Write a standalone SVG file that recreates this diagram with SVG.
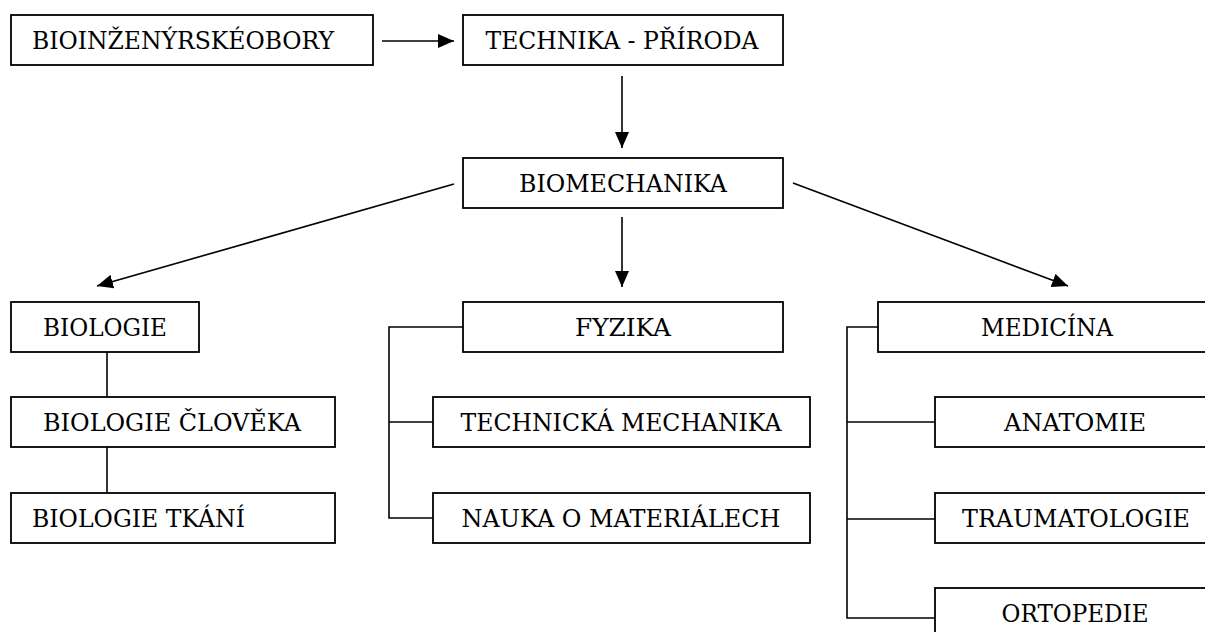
<svg xmlns="http://www.w3.org/2000/svg" width="1205" height="632" viewBox="0 0 1205 632">
<style>
.box{fill:#fff;stroke:#000;stroke-width:1.8}
.t{font-family:"DejaVu Serif",serif;font-size:24px;fill:#000}
.c{text-anchor:middle}
.ln{fill:none;stroke:#000;stroke-width:1.6}
</style>
<defs>
<marker id="ah" markerUnits="userSpaceOnUse" markerWidth="16" markerHeight="14" refX="16" refY="7" orient="auto" viewBox="0 0 16 14">
<path d="M0,0 L16,7 L0,14 Z" fill="#000"/>
</marker>
</defs>
<g id="connectors">
<line class="ln" x1="382" y1="41" x2="454" y2="41" marker-end="url(#ah)"/>
<line class="ln" x1="622" y1="76" x2="622" y2="148" marker-end="url(#ah)"/>
<line class="ln" x1="454" y1="184" x2="97" y2="286" marker-end="url(#ah)"/>
<line class="ln" x1="622" y1="217" x2="622" y2="287" marker-end="url(#ah)"/>
<line class="ln" x1="793" y1="183" x2="1068" y2="286" marker-end="url(#ah)"/>
<line class="ln" x1="107" y1="352" x2="107" y2="397"/>
<line class="ln" x1="107" y1="447" x2="107" y2="493"/>
<polyline class="ln" points="463,327 389,327 389,518 433,518"/>
<line class="ln" x1="389" y1="422" x2="433" y2="422"/>
<polyline class="ln" points="878,327 847,327 847,618 935,618"/>
<line class="ln" x1="847" y1="422" x2="935" y2="422"/>
<line class="ln" x1="847" y1="519" x2="935" y2="519"/>
</g>
<g id="n-bioinz"><rect class="box" x="11" y="15" width="362" height="50"/><text class="t" x="32" y="49" textLength="302" lengthAdjust="spacingAndGlyphs">BIOINŽENÝRSKÉOBORY</text></g>
<g id="n-technika"><rect class="box" x="463" y="15" width="320" height="50"/><text class="t c" x="622" y="49" textLength="273" lengthAdjust="spacingAndGlyphs">TECHNIKA - PŘÍRODA</text></g>
<g id="n-biomech"><rect class="box" x="463" y="158" width="320" height="50"/><text class="t c" x="623" y="192" textLength="208" lengthAdjust="spacingAndGlyphs">BIOMECHANIKA</text></g>
<g id="n-biologie"><rect class="box" x="11" y="302" width="188" height="50"/><text class="t c" x="105" y="336" textLength="124" lengthAdjust="spacingAndGlyphs">BIOLOGIE</text></g>
<g id="n-bio-clov"><rect class="box" x="11" y="397" width="324" height="50"/><text class="t c" x="172" y="431" textLength="258" lengthAdjust="spacingAndGlyphs">BIOLOGIE ČLOVĚKA</text></g>
<g id="n-bio-tkani"><rect class="box" x="11" y="493" width="324" height="50"/><text class="t" x="32" y="527" textLength="213" lengthAdjust="spacingAndGlyphs">BIOLOGIE TKÁNÍ</text></g>
<g id="n-fyzika"><rect class="box" x="463" y="302" width="320" height="50"/><text class="t c" x="623" y="336" textLength="96" lengthAdjust="spacingAndGlyphs">FYZIKA</text></g>
<g id="n-techmech"><rect class="box" x="433" y="397" width="377" height="50"/><text class="t c" x="621" y="431" textLength="321" lengthAdjust="spacingAndGlyphs">TECHNICKÁ MECHANIKA</text></g>
<g id="n-nauka"><rect class="box" x="433" y="493" width="377" height="50"/><text class="t c" x="621" y="527" textLength="319" lengthAdjust="spacingAndGlyphs">NAUKA O MATERIÁLECH</text></g>
<g id="n-medicina"><rect class="box" x="878" y="302" width="338" height="50"/><text class="t c" x="1047" y="336" textLength="132" lengthAdjust="spacingAndGlyphs">MEDICÍNA</text></g>
<g id="n-anatomie"><rect class="box" x="935" y="397" width="281" height="50"/><text class="t c" x="1075" y="431" textLength="142" lengthAdjust="spacingAndGlyphs">ANATOMIE</text></g>
<g id="n-trauma"><rect class="box" x="935" y="493" width="281" height="50"/><text class="t c" x="1076" y="527" textLength="228" lengthAdjust="spacingAndGlyphs">TRAUMATOLOGIE</text></g>
<g id="n-ortopedie"><rect class="box" x="935" y="588" width="281" height="50"/><text class="t c" x="1075" y="622" textLength="147" lengthAdjust="spacingAndGlyphs">ORTOPEDIE</text></g>
</svg>
